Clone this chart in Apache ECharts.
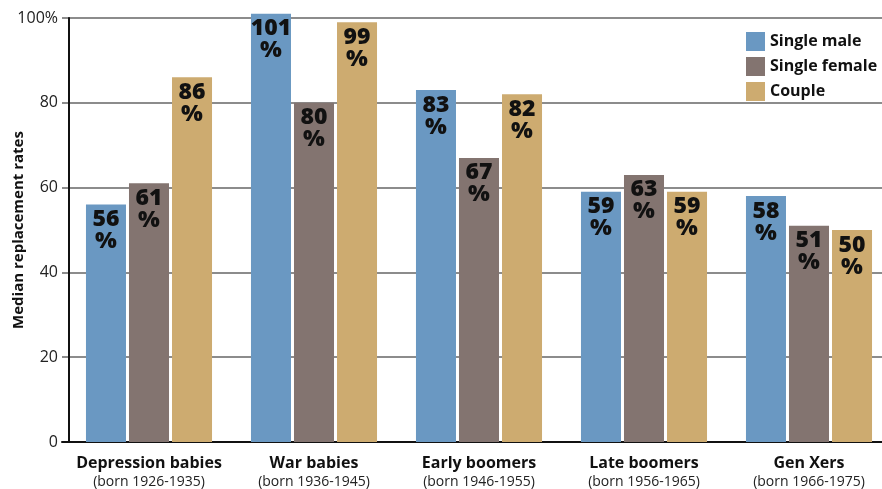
<!DOCTYPE html>
<html><head><meta charset="utf-8">
<script src="https://cdn.jsdelivr.net/npm/echarts@6/dist/echarts.min.js"></script>
<style>html,body{margin:0;padding:0;background:#fff}#c{width:882px;height:489px}</style>
</head><body><div id="c"></div>
<script>
const cohorts = ['Depression babies','War babies','Early boomers','Late boomers','Gen Xers'];
const born = ['(born 1926-1935)','(born 1936-1945)','(born 1946-1955)','(born 1956-1965)','(born 1966-1975)'];
const seriesNames = ['Single male','Single female','Couple'];
const singleMale = [56,101,83,59,58];
const singleFemale = [61,80,67,63,51];
const couple = [86,99,82,59,50];
const colors = ['#6a98c2','#837470','#cdab70'];

const FONT = 'Open Sans';
const chart = echarts.init(document.getElementById('c'), null, {renderer:'canvas'});
const vals = [singleMale, singleFemale, couple];
const series = seriesNames.map((n,i)=>({
  name:n, type:'bar', xAxisIndex:0, yAxisIndex:0, data:vals[i],
  barGap:'7.5%', barCategoryGap:'23.6%', clip:false,
  itemStyle:{color:colors[i]},
  label:{show:true, position:'insideTop', distance:4,
    formatter:p=>p.value+'\n%', color:'#111', fontFamily:FONT, fontWeight:800,
    fontSize:23, lineHeight:22}
}));
chart.setOption({
  animation:false,
  textStyle:{fontFamily:FONT},
  grid:[
    {left:66.5, right:-9.5, top:18, bottom:47, outerBoundsMode:'none', containLabel:false},
    {left:62, right:0, top:18, bottom:47, outerBoundsMode:'none', containLabel:false}
  ],
  legend:{orient:'vertical', left:741, top:27, itemWidth:19, itemHeight:19, itemGap:6,
    icon:'rect', textStyle:{fontFamily:FONT, fontWeight:'bold', fontSize:16, color:'#111', padding:[0,0,0,0]},
    data:seriesNames},
  xAxis:[
    {type:'category', gridIndex:0, data:cohorts,
      axisLine:{show:false}, axisTick:{show:false},
      axisLabel:{interval:0, margin:12, formatter:(v,i)=>'{a|'+v+'}\n{b|'+born[i]+'}',
        rich:{a:{fontFamily:FONT, fontWeight:'bold', fontSize:16, color:'#111', lineHeight:19},
              b:{fontFamily:FONT, fontSize:14, color:'#222', lineHeight:18}}}},
    {type:'value', gridIndex:1, min:0, max:1, show:true,
      axisLine:{show:true, onZero:false, lineStyle:{color:'#111', width:2}},
      axisTick:{show:false}, axisLabel:{show:false}, splitLine:{show:false}}
  ],
  yAxis:[
    {type:'value', gridIndex:0, min:0, max:100, interval:20, offset:-2.5,
      name:'Median replacement rates', nameLocation:'middle', nameGap:43, nameMoveOverlap:false,
      nameTextStyle:{fontFamily:FONT, fontWeight:'bold', fontSize:15, color:'#111'},
      axisLine:{show:true, lineStyle:{color:'#111', width:2}},
      axisTick:{show:false}, splitLine:{show:false},
      axisLabel:{margin:11, fontFamily:FONT, fontSize:16, color:'#222',
        formatter:v=> v===100 ? '100%' : String(v)}},
    {type:'value', gridIndex:1, min:0, max:100, interval:20,
      axisLine:{show:false}, axisTick:{show:false}, axisLabel:{show:false},
      splitLine:{show:true, lineStyle:{color:'#666', width:1.5}}}
  ],
  series:series
});
</script></body></html>
